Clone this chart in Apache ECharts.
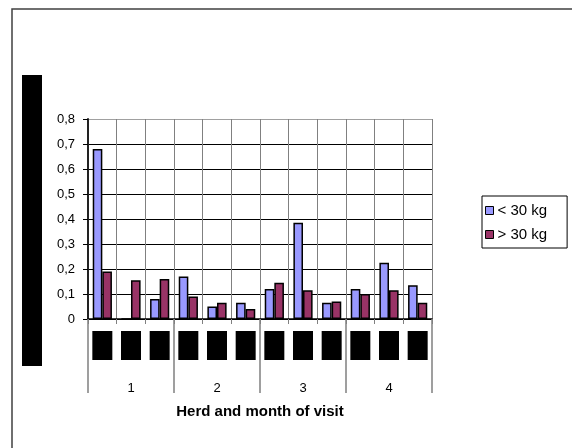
<!DOCTYPE html>
<html>
<head>
<meta charset="utf-8">
<script src="https://cdn.jsdelivr.net/npm/echarts@6/dist/echarts.min.js"></script>
<style>
  html, body { margin: 0; padding: 0; background: #fff; }
  #chart { width: 572px; height: 448px; }
</style>
</head>
<body>
<div id="chart"></div>
<script>
// herd-month categories (month labels are blacked out in the source)
var visits = ['1-1', '1-2', '1-3', '2-1', '2-2', '2-3', '3-1', '3-2', '3-3', '4-1', '4-2', '4-3']
var herds = ['1', '2', '3', '4']
var under30 = [0.68, 0, 0.08, 0.17, 0.05, 0.065, 0.12, 0.385, 0.065, 0.12, 0.225, 0.135]
var over30 = [0.19, 0.155, 0.16, 0.09, 0.065, 0.04, 0.145, 0.115, 0.07, 0.1, 0.115, 0.065]
var seriesNames = ['< 30 kg', '> 30 kg']

var font = 'Liberation Sans, Arial, sans-serif'
var chart = echarts.init(document.getElementById('chart'))

chart.setOption({
  animation: false,
  backgroundColor: '#fff',
  textStyle: { fontFamily: font },
  graphic: [
    {
      type: 'rect',
      shape: { x: 12, y: 9, width: 700, height: 700 },
      style: { fill: 'none', stroke: '#404040', lineWidth: 1.5 },
      silent: true,
    },
    {
      // redacted y-axis title
      type: 'rect',
      shape: { x: 22, y: 75, width: 20, height: 291 },
      style: { fill: '#000' },
      silent: true,
    },
  ],
  legend: {
    orient: 'vertical',
    left: 482,
    top: 196,
    data: seriesNames,
    icon: 'rect',
    itemWidth: 8,
    itemHeight: 8,
    itemGap: 9,
    padding: [7, 20, 6, 3],
    borderColor: '#000',
    borderWidth: 1,
    itemStyle: { borderColor: '#000', borderWidth: 1 },
    textStyle: { fontSize: 15, color: '#000', fontFamily: font, padding: [0, 0, 0, -1] },
  },
  grid: {
    left: 88,
    top: 119,
    width: 344,
    height: 200,
  },
  xAxis: [
    {
      type: 'category',
      data: visits,
      position: 'bottom',
      axisLine: { lineStyle: { color: '#000', width: 1.5 } },
      axisTick: { show: true, length: 5, lineStyle: { color: '#808080' } },
      splitLine: { show: true, lineStyle: { color: '#808080', width: 1 } },
      axisLabel: {
        margin: 12,
        interval: 0,
        formatter: function (v) { return '{b|' + v + '}' },
        rich: {
          b: { backgroundColor: '#000', color: '#000', width: 20, height: 29, lineHeight: 29, align: 'center' },
        },
      },
    },
    {
      type: 'category',
      data: herds,
      position: 'bottom',
      axisLine: { show: false },
      axisTick: { show: true, length: 74, lineStyle: { color: '#808080', width: 1.5 } },
      splitLine: { show: false },
      axisLabel: { margin: 63, fontSize: 13, color: '#000', fontFamily: font },
      name: 'Herd and month of visit',
      nameLocation: 'middle',
      nameGap: 85,
      nameTextStyle: { fontSize: 15, fontWeight: 'bold', color: '#000', fontFamily: font },
    },
  ],
  yAxis: {
    type: 'value',
    min: 0,
    max: 0.8,
    interval: 0.1,
    axisLine: { show: true, lineStyle: { color: '#222', width: 2 } },
    axisTick: { show: true, length: 5, lineStyle: { color: '#000' } },
    axisLabel: {
      margin: 13,
      fontSize: 13,
      color: '#000',
      fontFamily: font,
      formatter: function (v) {
        if (v === 0) return '0'
        return v.toFixed(1).replace('.', ',')
      },
    },
    splitLine: {
      show: true,
      lineStyle: {
        color: ['#000', '#000', '#000', '#000', '#000', '#000', '#000', '#000', '#a0a0a0'],
        width: 1,
      },
    },
  },
  series: [
    {
      name: seriesNames[0],
      type: 'bar',
      xAxisIndex: 0,
      data: under30,
      barGap: '0%',
      barCategoryGap: '33%',
      itemStyle: { color: '#9999ff', borderColor: '#000', borderWidth: 1.5 },
    },
    {
      name: seriesNames[1],
      type: 'bar',
      xAxisIndex: 0,
      data: over30,
      barGap: '0%',
      barCategoryGap: '33%',
      itemStyle: { color: '#993366', borderColor: '#000', borderWidth: 1.5 },
    },
  ],
})
</script>
</body>
</html>
